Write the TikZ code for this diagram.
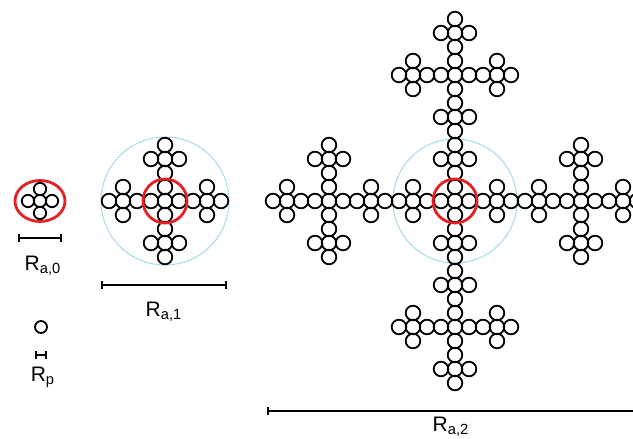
\documentclass[tikz,border=0pt]{standalone}
\usepackage{fontspec}
\setmainfont{Liberation Sans}
\usetikzlibrary{arrows.meta}
\definecolor{ringred}{RGB}{228,32,36}
\definecolor{ringblue}{RGB}{165,218,232}

\begin{document}
\begin{tikzpicture}[x=0.5pt,y=-0.5pt,
  ptcl/.style={line width=0.9pt},
  redring/.style={ringred,line width=1.4pt},
  bluering/.style={ringblue,line width=0.5pt},
  scalebar/.style={line width=1pt,{Bar[width=4pt]}-{Bar[width=4pt]}},
  lbl/.style={anchor=base,font=\fontsize{10.5}{12}\selectfont,inner sep=0pt}]
\useasboundingbox (0,0) rectangle (633,439);
\clip (0,0) rectangle (633,439);
% single particle
\draw[ptcl] (41,327) circle (6);
% level 0
\foreach \ia/\ja in {0/0,1/0,-1/0,0/1,0/-1} {\draw[ptcl] (40+12*\ia,201+12*\ja) circle (6.2);}
\draw[redring] (40,201) ellipse (25 and 20.5);
% level 1
\draw[bluering] (165,201) circle (64);
\foreach \ia/\ja in {0/0,1/0,-1/0,0/1,0/-1}
  \foreach \ib/\jb in {0/0,1/0,-1/0,0/1,0/-1}
    {\draw[ptcl] (165+42*\ia+14*\ib,201+42*\ja+14*\jb) circle (7.3);}
\draw[redring] (165,201) circle (22);
% level 2
\draw[bluering] (455,201) circle (62);
\foreach \ia/\ja in {0/0,1/0,-1/0,0/1,0/-1}
  \foreach \ib/\jb in {0/0,1/0,-1/0,0/1,0/-1}
    \foreach \ic/\jc in {0/0,1/0,-1/0,0/1,0/-1}
      {\draw[ptcl] (455+126*\ia+42*\ib+14*\ic,201+126*\ja+42*\jb+14*\jc) circle (7.3);}
\draw[redring] (455,201) circle (22);
% scale bars
\draw[scalebar] (18,238) -- (62,238);
\node[lbl] (ra0) at (43,270) {R\textsubscript{a,0}};
\draw[scalebar] (101,285) -- (227,285);
\node[lbl] (ra1) at (164,316) {R\textsubscript{a,1}};
\draw[scalebar] (35,355) -- (47,355);
\node[lbl] (rp) at (43,381) {R\textsubscript{p}};
\draw[scalebar] (267,411) -- (660,411);
\node[lbl] (ra2) at (451,431) {R\textsubscript{a,2}};
\end{tikzpicture}
\end{document}
